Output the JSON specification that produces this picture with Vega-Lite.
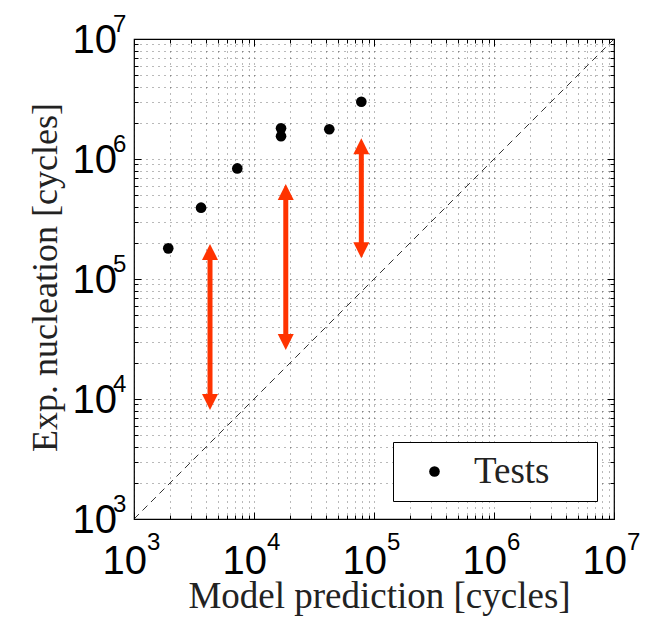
{
  "$schema": "https://vega.github.io/schema/vega-lite/v6.json",
  "width": 480,
  "height": 480,
  "autosize": {"type": "none"},
  "padding": {"left": 134, "top": 39, "right": 34, "bottom": 101},
  "background": "white",
  "config": {
    "view": {"stroke": "black", "strokeWidth": 1.2},
    "axis": {"domain": false, "labels": false, "tickColor": "black", "tickWidth": 1}
  },
  "datasets": {
    "tests": [
      {"x": 1930, "y": 180000, "s": "Tests"},
      {"x": 3620, "y": 393000, "s": "Tests"},
      {"x": 7260, "y": 835000, "s": "Tests"},
      {"x": 16800, "y": 1800000, "s": "Tests"},
      {"x": 16800, "y": 1550000, "s": "Tests"},
      {"x": 42400, "y": 1770000, "s": "Tests"},
      {"x": 78400, "y": 3000000, "s": "Tests"}
    ],
    "arrows": [
      {"x": 4300, "lo": 8100, "hi": 196000},
      {"x": 18400, "lo": 25600, "hi": 619000},
      {"x": 78400, "lo": 149000, "hi": 1490000}
    ],
    "diag": [{"v": 1000}, {"v": 10000000}],
    "decades": [
      {"v": 1000, "e": "3"},
      {"v": 10000, "e": "4"},
      {"v": 100000, "e": "5"},
      {"v": 1000000, "e": "6"},
      {"v": 10000000, "e": "7"}
    ]
  },
  "resolve": {"axis": {"x": "independent", "y": "independent"}},
  "layer": [
    {
      "data": {"name": "diag"},
      "mark": {"type": "line", "strokeDash": [7, 5], "strokeWidth": 0.8, "color": "black"},
      "encoding": {
        "x": {"field": "v", "type": "quantitative",
          "scale": {"type": "log", "domain": [1000, 10000000], "nice": false},
          "axis": {"orient": "top", "title": null, "grid": false,
            "values": [1000,2000,3000,4000,5000,6000,7000,8000,9000,10000,20000,30000,40000,50000,60000,70000,80000,90000,100000,200000,300000,400000,500000,600000,700000,800000,900000,1000000,2000000,3000000,4000000,5000000,6000000,7000000,8000000,9000000,10000000],
            "tickSize": {"condition": {"test": "indexof([1000,10000,100000,1000000,10000000], datum.value) >= 0", "value": -7}, "value": -4}}},
        "y": {"field": "v", "type": "quantitative",
          "scale": {"type": "log", "domain": [1000, 10000000], "nice": false},
          "axis": {"orient": "right", "title": null, "grid": false,
            "values": [1000,2000,3000,4000,5000,6000,7000,8000,9000,10000,20000,30000,40000,50000,60000,70000,80000,90000,100000,200000,300000,400000,500000,600000,700000,800000,900000,1000000,2000000,3000000,4000000,5000000,6000000,7000000,8000000,9000000,10000000],
            "tickSize": {"condition": {"test": "indexof([1000,10000,100000,1000000,10000000], datum.value) >= 0", "value": -7}, "value": -4}}}
      }
    },
    {
      "data": {"name": "arrows"},
      "mark": {"type": "rule", "color": "#ff3300", "strokeWidth": 5, "yOffset": 14, "y2Offset": -14},
      "encoding": {
        "x": {"field": "x", "type": "quantitative", "axis": null},
        "y": {"field": "hi", "type": "quantitative", "axis": null},
        "y2": {"field": "lo"}
      }
    },
    {
      "data": {"name": "arrows"},
      "mark": {"type": "point", "shape": "M0,0L-1,2L1,2Z", "filled": true, "opacity": 1, "size": 256, "color": "#ff3300", "strokeWidth": 0},
      "encoding": {
        "x": {"field": "x", "type": "quantitative", "axis": null},
        "y": {"field": "hi", "type": "quantitative", "axis": null}
      }
    },
    {
      "data": {"name": "arrows"},
      "mark": {"type": "point", "shape": "M0,0L-1,-2L1,-2Z", "filled": true, "opacity": 1, "size": 256, "color": "#ff3300", "strokeWidth": 0},
      "encoding": {
        "x": {"field": "x", "type": "quantitative", "axis": null},
        "y": {"field": "lo", "type": "quantitative", "axis": null}
      }
    },
    {
      "data": {"name": "tests"},
      "mark": {"type": "point", "shape": "circle", "filled": true, "opacity": 1, "size": 113, "strokeWidth": 0},
      "encoding": {
        "x": {"field": "x", "type": "quantitative",
          "axis": {"orient": "bottom", "grid": true, "gridDash": [1, 5], "gridColor": "black", "gridOpacity": 0.55, "gridWidth": 1,
            "values": [1000,2000,3000,4000,5000,6000,7000,8000,9000,10000,20000,30000,40000,50000,60000,70000,80000,90000,100000,200000,300000,400000,500000,600000,700000,800000,900000,1000000,2000000,3000000,4000000,5000000,6000000,7000000,8000000,9000000,10000000],
            "tickSize": {"condition": {"test": "indexof([1000,10000,100000,1000000,10000000], datum.value) >= 0", "value": -7}, "value": -4},
            "title": "Model prediction [cycles]", "titleFont": "Liberation Serif", "titleFontSize": 37, "titleFontWeight": "normal", "titleColor": "#222",
            "titleX": 245, "titleY": 88, "titleBaseline": "alphabetic", "titleAlign": "center", "titleAnchor": null}},
        "y": {"field": "y", "type": "quantitative",
          "axis": {"orient": "left", "grid": true, "gridDash": [1, 5], "gridColor": "black", "gridOpacity": 0.55, "gridWidth": 1,
            "values": [1000,2000,3000,4000,5000,6000,7000,8000,9000,10000,20000,30000,40000,50000,60000,70000,80000,90000,100000,200000,300000,400000,500000,600000,700000,800000,900000,1000000,2000000,3000000,4000000,5000000,6000000,7000000,8000000,9000000,10000000],
            "tickSize": {"condition": {"test": "indexof([1000,10000,100000,1000000,10000000], datum.value) >= 0", "value": -7}, "value": -4},
            "title": "Exp. nucleation [cycles]", "titleFont": "Liberation Serif", "titleFontSize": 36, "titleFontWeight": "normal", "titleColor": "#222",
            "titleX": -78, "titleY": 238, "titleAngle": -90, "titleBaseline": "alphabetic", "titleAlign": "center", "titleAnchor": null}},
        "color": {"field": "s", "type": "nominal", "scale": {"range": ["black"]},
          "legend": {"orient": "none", "legendX": 259, "legendY": 403, "title": null,
            "strokeColor": "black", "fillColor": "white", "padding": 11,
            "symbolType": "circle", "symbolSize": 113, "symbolOffset": 12, "symbolOpacity": 1, "symbolStrokeWidth": 0,
            "labelOffset": 21, "labelFont": "Liberation Serif", "labelFontSize": 37, "labelColor": "#222",
            "labelExpr": "datum.label + '\u00a0\u2800'"}}
      }
    },
    {
      "data": {"name": "decades"},
      "mark": {"type": "text", "align": "right", "baseline": "alphabetic", "dx": 13, "dy": 55, "font": "Liberation Sans", "fontSize": 40, "color": "black"},
      "encoding": {
        "x": {"field": "v", "type": "quantitative", "axis": null},
        "y": {"datum": 1000, "type": "quantitative", "axis": null},
        "text": {"value": "10"}
      }
    },
    {
      "data": {"name": "decades"},
      "mark": {"type": "text", "align": "left", "baseline": "alphabetic", "dx": 13, "dy": 31, "font": "Liberation Sans", "fontSize": 24, "color": "black"},
      "encoding": {
        "x": {"field": "v", "type": "quantitative", "axis": null},
        "y": {"datum": 1000, "type": "quantitative", "axis": null},
        "text": {"field": "e"}
      }
    },
    {
      "data": {"name": "decades"},
      "mark": {"type": "text", "align": "right", "baseline": "alphabetic", "dx": -17, "dy": 14, "font": "Liberation Sans", "fontSize": 40, "color": "black"},
      "encoding": {
        "x": {"datum": 1000, "type": "quantitative", "axis": null},
        "y": {"field": "v", "type": "quantitative", "axis": null},
        "text": {"value": "10"}
      }
    },
    {
      "data": {"name": "decades"},
      "mark": {"type": "text", "align": "left", "baseline": "alphabetic", "dx": -21, "dy": -7, "font": "Liberation Sans", "fontSize": 24, "color": "black"},
      "encoding": {
        "x": {"datum": 1000, "type": "quantitative", "axis": null},
        "y": {"field": "v", "type": "quantitative", "axis": null},
        "text": {"field": "e"}
      }
    }
  ]
}
